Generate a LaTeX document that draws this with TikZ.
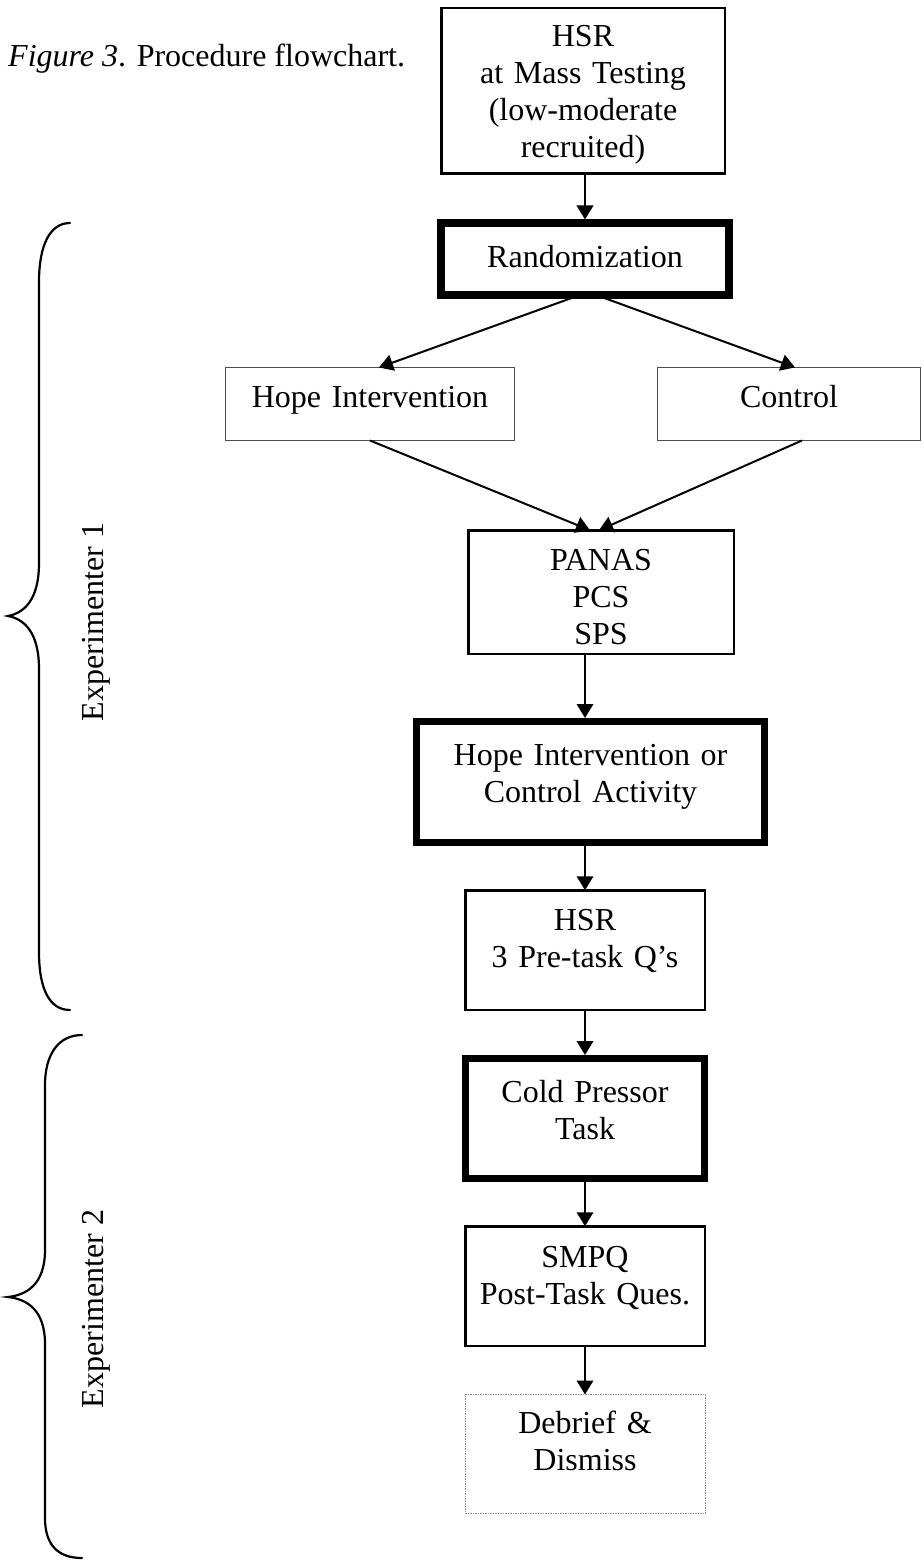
\documentclass[tikz,border=0pt]{standalone}
\usepackage{fontspec}
\setmainfont{Liberation Serif}
\usetikzlibrary{arrows.meta}
\begin{document}
\begin{tikzpicture}[x=1pt,y=-1pt,
  every node/.style={font=\fontsize{32}{37}\selectfont},
  box/.style={draw, rectangle, inner sep=0pt, outer sep=0pt, align=center, anchor=north west},
  normalbox/.style={box, line width=2.5pt},
  thickbox/.style={box, line width=7.5pt},
  thinbox/.style={box, line width=1pt, draw=black!70},
  dotbox/.style={box, line width=1pt, draw=black!45, dash pattern=on 1.5pt off 1pt},
  arr/.style={line width=2pt, -{Triangle[length=14pt,width=16.5pt]}},
  brace/.style={line width=2.2pt, line cap=round},
  ]
\useasboundingbox (0,0) rectangle (923,1562);

% caption
\node[anchor=base west, inner sep=0pt] (cap) at (8,67) {\textit{Figure 3}. Procedure flowchart.};

% boxes
\node[normalbox, text width=283.5pt, text height=38.75pt, text depth=126.75pt] (hsr1) at (441.25,8.25)
  {HSR\\at Mass Testing\\(low-moderate\\recruited)};
\node[thickbox, text width=288pt, text height=44pt, text depth=28pt] (rand) at (441,223)
  {Randomization};
\node[thinbox, text width=289pt, text height=39.5pt, text depth=33.5pt] (hope) at (225.5,367.5)
  {Hope Intervention};
\node[thinbox, text width=263pt, text height=39.5pt, text depth=33.5pt] (control) at (657.5,367.5)
  {Control};
\node[normalbox, text width=265.5pt, text height=39.75pt, text depth=83.75pt] (panas) at (468.25,530.25)
  {PANAS\\PCS\\SPS};
\node[thickbox, text width=348pt, text height=43.5pt, text depth=77.5pt] (hic) at (416.5,721.5)
  {Hope Intervention or\\Control Activity};
\node[normalbox, text width=239.5pt, text height=39.75pt, text depth=79.75pt] (hsr2) at (465.25,890.25)
  {HSR\\3 Pre-task Q’s};
\node[thickbox, text width=239pt, text height=43.5pt, text depth=76.5pt] (cold) at (465.5,1058.5)
  {Cold Pressor\\Task};
\node[normalbox, text width=239.5pt, text height=40.75pt, text depth=78.75pt] (smpq) at (465.25,1226.25)
  {SMPQ\\Post-Task Ques.};
\node[dotbox, text width=240pt, text height=38.5pt, text depth=80.5pt] (debrief) at (465,1394.5)
  {Debrief \&\\Dismiss};

% connectors
\draw[arr, shorten >=3.5pt] (rand.north |- hsr1.south) -- (rand.north);
\draw[arr] ([xshift=-5pt]rand.south) -- ([xshift=9pt]hope.north);
\draw[arr] ([xshift=11pt]rand.south) -- ([xshift=6pt]control.north);
\draw[arr] (hope.south) -- ([xshift=-11pt]panas.north);
\draw[arr] ([xshift=13pt]control.south) -- ([xshift=-2pt]panas.north);
\draw[arr, shorten >=3.5pt] (panas.south -| rand.south) -- (hic.north -| rand.south);
\draw[arr] (hic.south -| hsr2.north) -- (hsr2.north);
\draw[arr, shorten >=3.5pt] (hsr2.south) -- (cold.north);
\draw[arr] (cold.south) -- (smpq.north);
\draw[arr] (smpq.south) -- (debrief.north);

% braces
\draw[brace] (70,223) .. controls (50,223) and (39,245) .. (39,282) -- (39,563)
  .. controls (39,600) and (24,613) .. (8,616)
  .. controls (24,619) and (39,632) .. (39,669) -- (39,952)
  .. controls (39,990) and (50,1010) .. (70,1010);
\draw[brace] (82,1035) .. controls (58,1035) and (45,1055) .. (45,1085) -- (45,1250)
  .. controls (45,1285) and (26,1295) .. (8,1297)
  .. controls (26,1299) and (45,1309) .. (45,1344) -- (45,1518)
  .. controls (45,1545) and (58,1558) .. (82,1558);

% labels
\node[rotate=90, inner sep=0pt] (exp1) at (96,622) {Experimenter 1};
\node[rotate=90, inner sep=0pt] (exp2) at (96,1309) {Experimenter 2};
\end{tikzpicture}
\end{document}
